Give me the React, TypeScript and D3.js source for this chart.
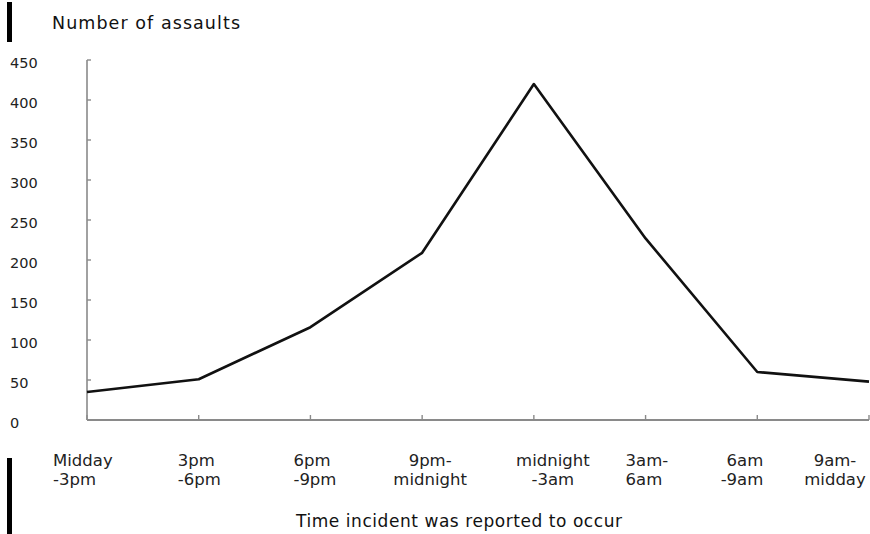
import React from "react";
import * as d3 from "d3";

const categories = [
  ["Midday", "-3pm"],
  ["3pm", "-6pm"],
  ["6pm", "-9pm"],
  ["9pm-", "midnight"],
  ["midnight", "-3am"],
  ["3am-", "6am"],
  ["6am", "-9am"],
  ["9am-", "midday"],
];
const assaults = [35, 51, 116, 209, 420, 227, 60, 48];
const yTicks = [0, 50, 100, 150, 200, 250, 300, 350, 400, 450];
const yTitle = "Number of assaults";
const xTitle = "Time incident was reported to occur";

// label placement styles (anchor, offset from tick)
const labelStyle: [string, number][] = [
  ["start", -34],
  ["start", -21],
  ["start", -17],
  ["middle", 8],
  ["middle", 19],
  ["start", -20],
  ["end", 6],
  ["middle", -34],
];

const W = 870;
const H = 534;
const left = 87;
const right = 869;
const top = 60;
const bottom = 420;
const FONT = "'DejaVu Sans', Verdana, sans-serif";

export default function App() {
  const x = d3.scalePoint<number>().domain(d3.range(categories.length)).range([left, right]);
  const y = d3.scaleLinear().domain([0, 450]).range([bottom, top]);
  const line = d3
    .line<number>()
    .x((_, i) => x(i) as number)
    .y((d) => y(d));

  return (
    <svg
      width={W}
      height={H}
      style={{ position: "absolute", left: 0, top: 0, background: "#fff" }}
    >
      <rect x={0} y={0} width={W} height={H} fill="#fff" />
      <rect x={7} y={2} width={5} height={40} fill="#000" />
      <rect x={7} y={458} width={5} height={76} fill="#000" />
      <text x={52} y={29} fontFamily={FONT} fontSize={17.5} fill="#111" textLength={188} lengthAdjust="spacing">
        {yTitle}
      </text>
      {/* y axis */}
      <line x1={left} x2={left} y1={y(450)} y2={bottom} stroke="#8a8a8a" strokeWidth={1.6} />
      {yTicks.map((t) => (
        <g key={t}>
          <line x1={left} x2={left + 4} y1={y(t)} y2={y(t)} stroke="#8a8a8a" strokeWidth={1.4} />
          <text x={10} y={y(t) + 8} fontFamily={FONT} fontSize={14.5} fill="#222">
            {t}
          </text>
        </g>
      ))}
      {/* x axis */}
      <line x1={left} x2={right} y1={bottom} y2={bottom} stroke="#8a8a8a" strokeWidth={1.8} />
      {categories.map((_, i) => (
        <line key={i} x1={x(i)} x2={x(i)} y1={bottom} y2={bottom - 5} stroke="#8a8a8a" strokeWidth={1.4} />
      ))}
      {categories.map((lines, i) => {
        const [anchor, dx] = labelStyle[i];
        return (
          <text
            key={i}
            x={(x(i) as number) + dx}
            y={466}
            fontFamily={FONT}
            fontSize={16.5}
            fill="#222"
            textAnchor={anchor}
          >
            {lines.map((l, j) => (
              <tspan key={j} x={(x(i) as number) + dx} dy={j === 0 ? 0 : 19}>
                {l}
              </tspan>
            ))}
          </text>
        );
      })}
      <text x={296} y={527} fontFamily={FONT} fontSize={17} fill="#111" textLength={326} lengthAdjust="spacing">
        {xTitle}
      </text>
      <path d={line(assaults) || ""} fill="none" stroke="#111" strokeWidth={2.6} strokeLinejoin="round" />
    </svg>
  );
}
